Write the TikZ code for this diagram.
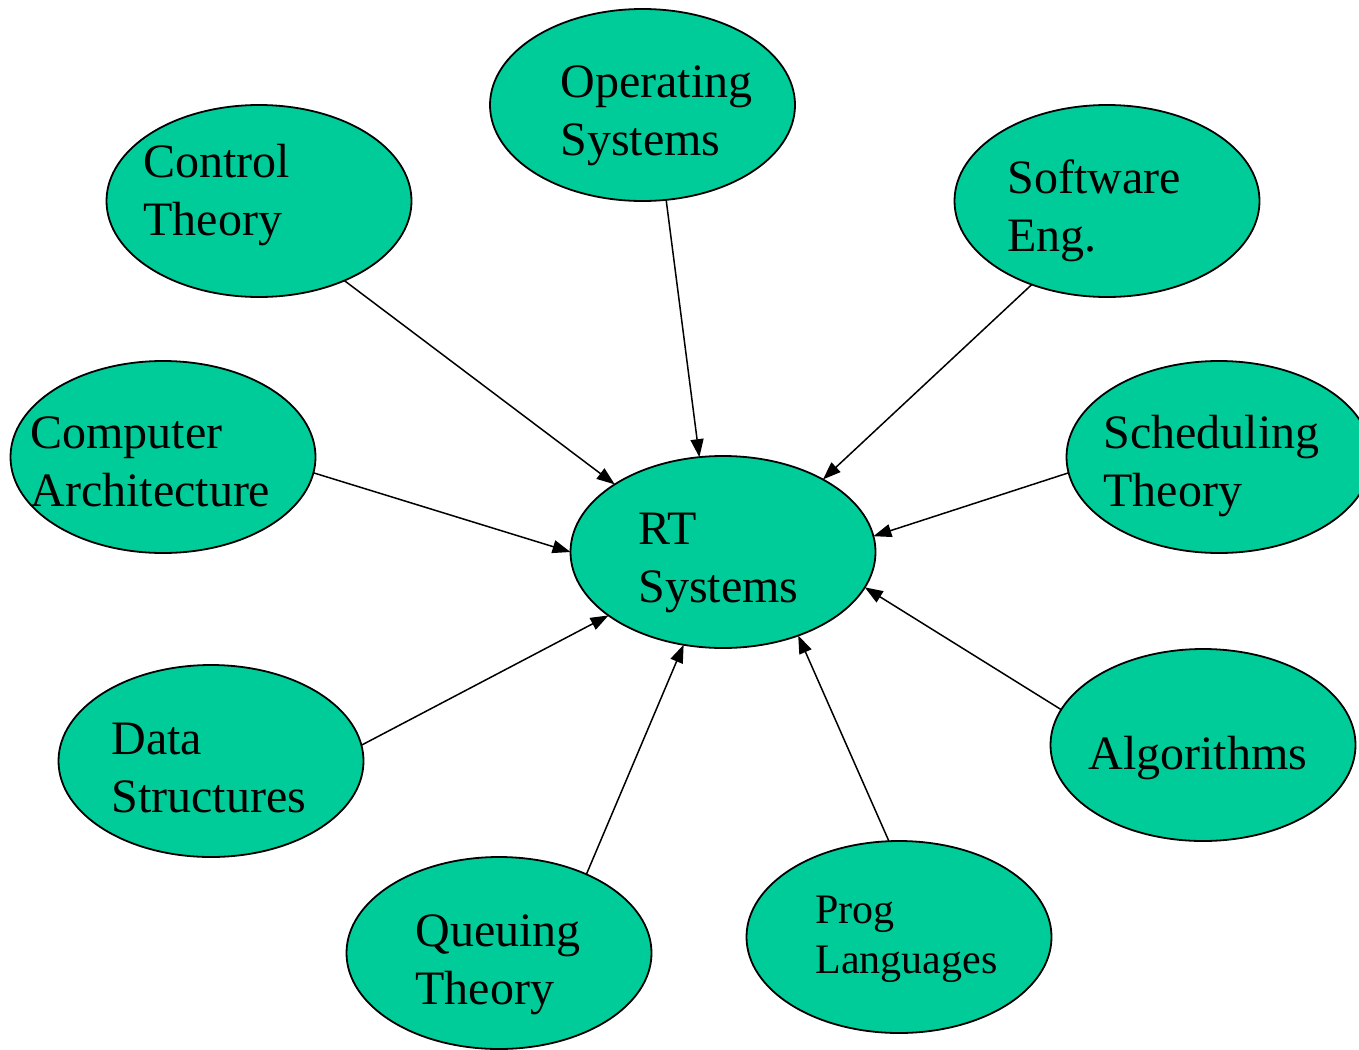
\documentclass[tikz,border=0pt]{standalone}
\usepackage{fontspec}
\setmainfont{Liberation Serif}
\usetikzlibrary{shapes.geometric,arrows.meta}
\definecolor{seagreen}{RGB}{0,204,153}
\tikzset{
 bubble/.style={ellipse,draw,fill=seagreen,line width=0.9pt,minimum width=152.5pt,minimum height=96pt,inner sep=0pt,outer sep=0pt},
 lbl/.style={anchor=base west,align=left,inner sep=0pt,font={\fontsize{24}{29}\selectfont}},
 feed/.style={line width=0.75pt,-{Triangle[length=9pt,width=6.5pt]}}
}
\begin{document}
\begin{tikzpicture}[x=0.5pt,y=-0.5pt]
 \useasboundingbox (0,0) rectangle (1359,1049);
 \node[bubble] (os) at (642.5,105) {};
 \node[bubble] (ct) at (259,201) {};
 \node[bubble] (se) at (1107,201) {};
 \node[bubble] (ca) at (163,457) {};
 \node[bubble] (rt) at (723,552) {};
 \node[bubble] (st) at (1219,457) {};
 \node[bubble] (ds) at (211,761) {};
 \node[bubble] (alg) at (1203,745) {};
 \node[bubble] (qt) at (499,953) {};
 \node[bubble] (pl) at (899,937) {};
 \node[lbl] (os-t) at (560,155) {Operating\\Systems};
 \node[lbl] (ct-t) at (143,235) {Control\\Theory};
 \node[lbl] (se-t) at (1007,251) {Software\\Eng.};
 \node[lbl] (ca-t) at (30,506) {Computer\\Architecture};
 \node[lbl] (rt-t) at (638,602) {RT\\Systems};
 \node[lbl] (st-t) at (1103,506) {Scheduling\\Theory};
 \node[lbl] (ds-t) at (111,812) {Data\\Structures};
 \node[lbl] (alg-t) at (1088,769) {Algorithms};
 \node[lbl] (qt-t) at (415,1004) {Queuing\\Theory};
 \node[lbl,font={\fontsize{21}{25}\selectfont}] (pl-t) at (815,973) {Prog\\Languages};
 \draw[feed] (ct.-43) -- (rt.148);
 \draw[feed] (os.-76) -- (rt.104);
 \draw[feed] (se.-132) -- (rt.36);
 \draw[feed] (ca.-6) -- (rt.180);
 \draw[feed] (st.-174) -- (rt.6);
 \draw[feed] (alg.166) -- (rt.-14);
 \draw[feed] (pl.96) -- (rt.-48);
 \draw[feed] (qt.42) -- (rt.-113);
 \draw[feed] (ds.6) -- (rt.-151);
\end{tikzpicture}
\end{document}
